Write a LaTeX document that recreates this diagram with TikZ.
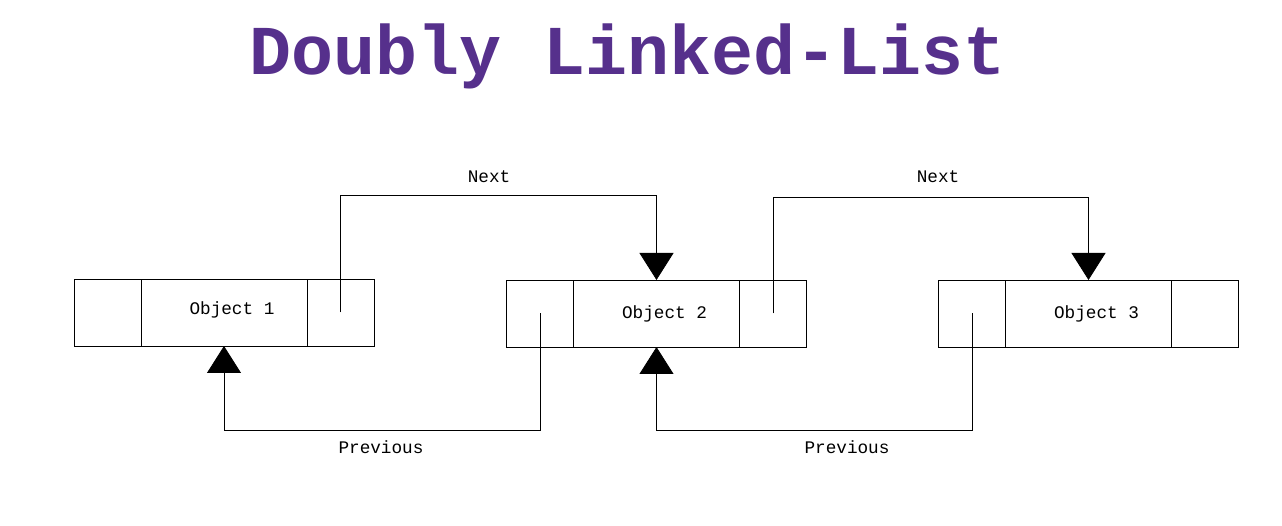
\documentclass[tikz,border=0pt]{standalone}
\usepackage{fontspec}
\usepackage{xcolor}
\usetikzlibrary{arrows.meta,positioning}
\newfontfamily\monofont{Liberation Mono}
\definecolor{titlepurple}{HTML}{56308C}

\tikzset{
  cell/.style={draw, line width=0.8pt, minimum height=67pt, inner sep=0pt, outer sep=0pt},
  ptrcell/.style={cell, minimum width=67pt},
  datacell/.style={cell, minimum width=166pt},
  ptr/.style={line width=0.8pt, -{Triangle[width=34pt,length=27pt]}},
  lbl/.style={font=\monofont\fontsize{17.7}{20}\selectfont, anchor=base}
}

\begin{document}
\begin{tikzpicture}[x=1pt,y=-1pt]
		\useasboundingbox (0,0) rectangle (1282,526);
		\node[font=\monofont\bfseries\fontsize{70}{80}\selectfont, text=titlepurple, anchor=base] (title) at (627.5,75) {Doubly Linked-List};
		% object 1
		\node[ptrcell] (o1prev) at (107.5,312.5) {};
		\node[datacell, right=0pt of o1prev] (o1data) {};
		\node[ptrcell, right=0pt of o1data] (o1next) {};
		% object 2
		\node[ptrcell] (o2prev) at (540,313.5) {};
		\node[datacell, right=0pt of o2prev] (o2data) {};
		\node[ptrcell, right=0pt of o2data] (o2next) {};
		% object 3
		\node[ptrcell] (o3prev) at (972,313.5) {};
		\node[datacell, right=0pt of o3prev] (o3data) {};
		\node[ptrcell, right=0pt of o3data] (o3next) {};
		\node[lbl] (t1) at ([xshift=8pt,yshift=-2.5pt]o1data.center) {Object 1};
		\node[lbl] (t2) at ([xshift=8pt,yshift=-5.5pt]o2data.center) {Object 2};
		\node[lbl] (t3) at ([xshift=8pt,yshift=-5.5pt]o3data.center) {Object 3};
		% next pointers
		\draw[ptr] (o1next.center) -- (o1next.center |- 0,195) -| (o2data.north);
		\draw[ptr] (o2next.center) -- (o2next.center |- 0,197) -| (o3data.north);
		\node[lbl] (n1) at (489,183) {Next};
		\node[lbl] (n2) at (938,183) {Next};
		% previous pointers
		\draw[ptr] (o2prev.center) -- (o2prev.center |- 0,430) -| (o1data.south);
		\draw[ptr] (o3prev.center) -- (o3prev.center |- 0,430) -| (o2data.south);
		\node[lbl] (p1) at (381,453) {Previous};
		\node[lbl] (p2) at (847,453) {Previous};
		\end{tikzpicture}
\end{document}
